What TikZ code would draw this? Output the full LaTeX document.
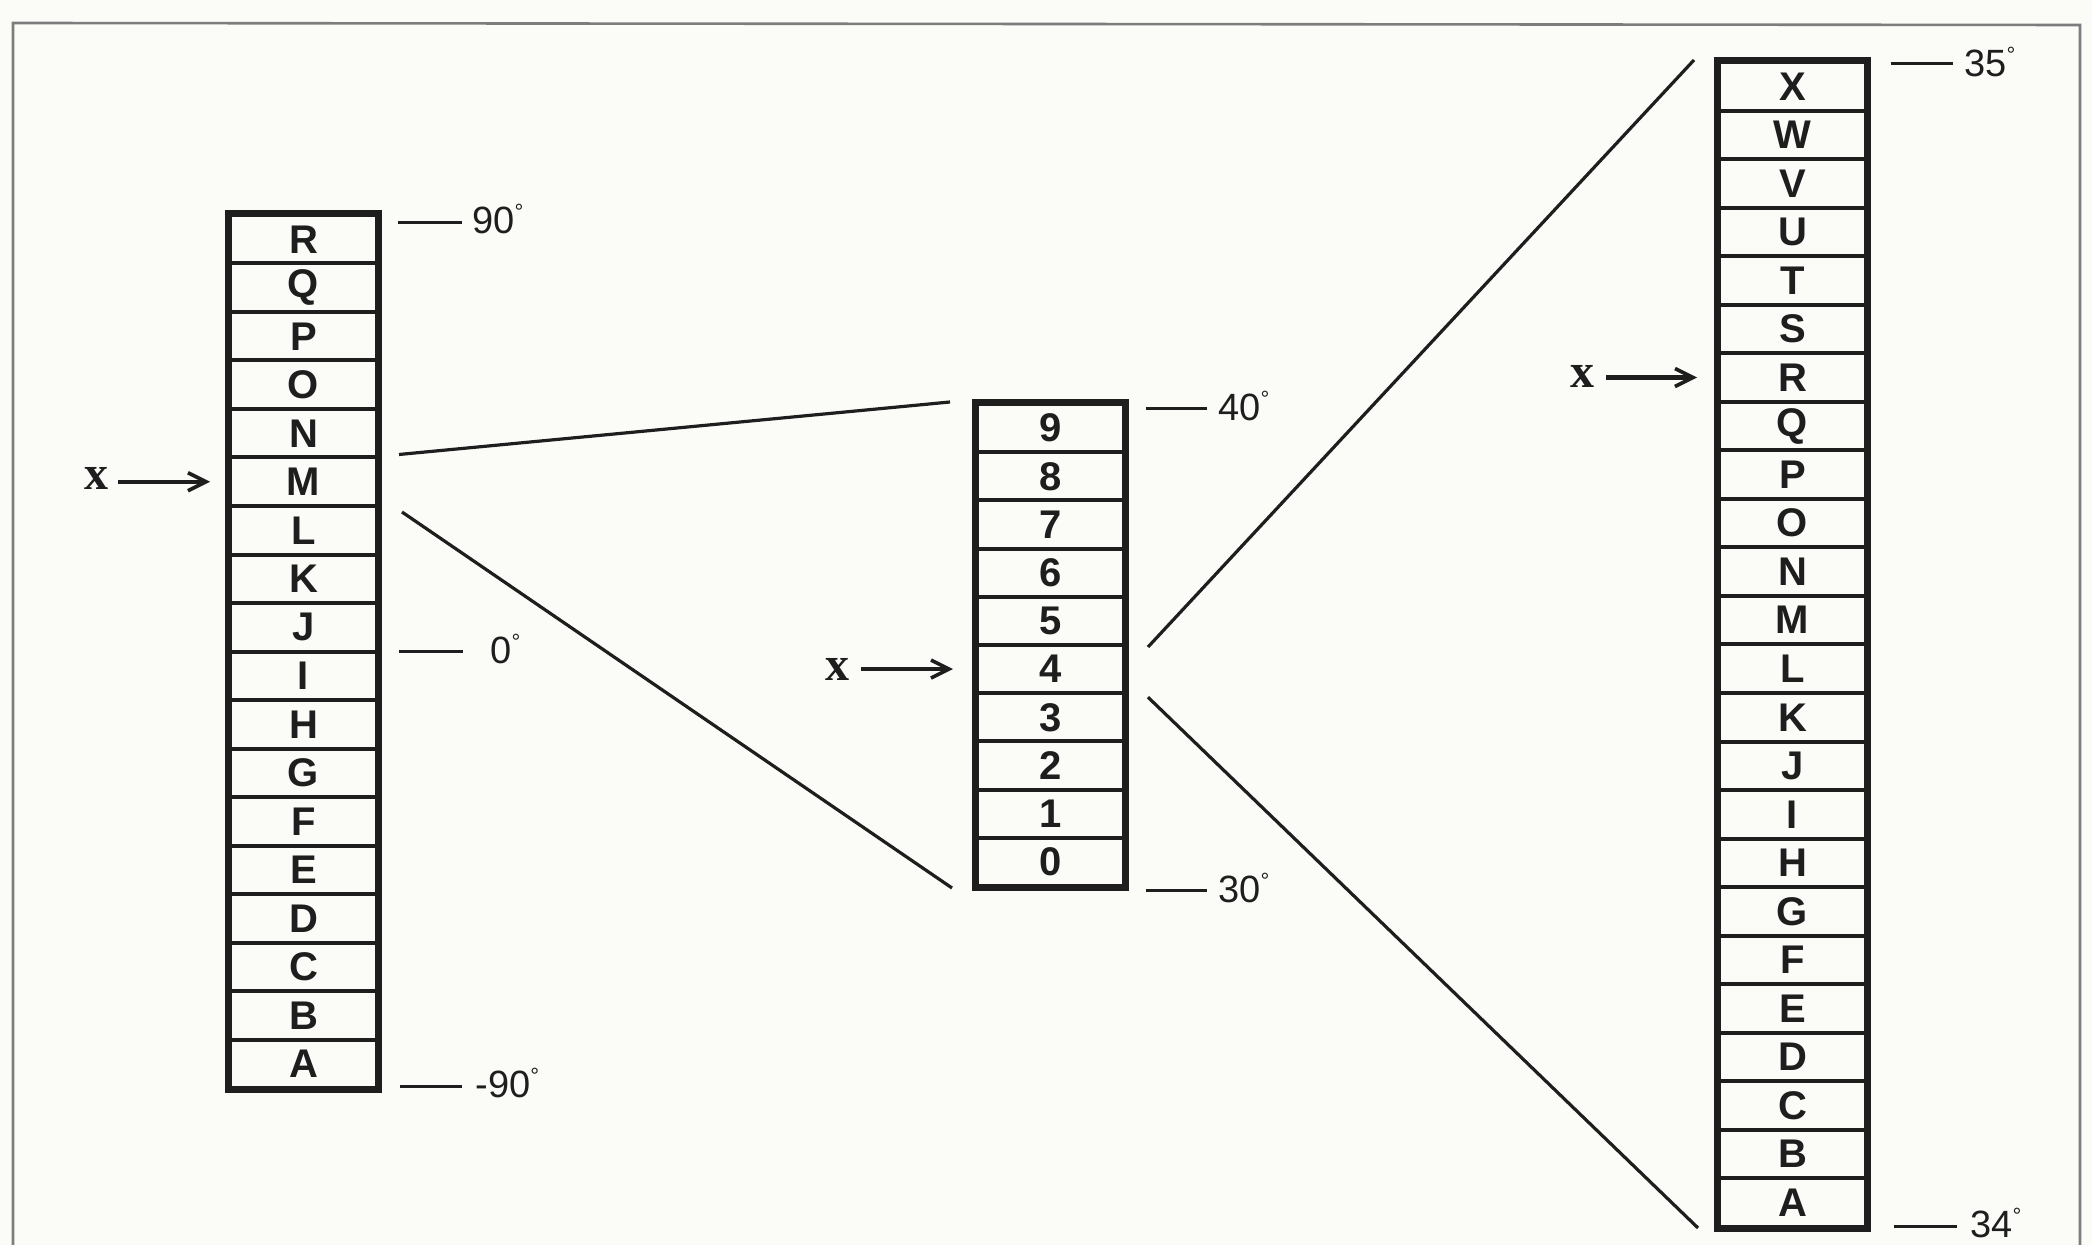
\documentclass[tikz,border=0pt]{standalone}
\usepackage{fontspec}
\setmainfont{Liberation Sans}
\newfontfamily\xserif{Liberation Serif}
\usetikzlibrary{arrows.meta,calc}
\definecolor{bgc}{RGB}{251,251,248}
\definecolor{ink}{RGB}{30,30,30}
\definecolor{framec}{RGB}{125,125,125}
\newcommand{\dg}{\raisebox{7pt}{\fontsize{11pt}{11pt}\selectfont °}}
\begin{document}
\begin{tikzpicture}[x=0.5pt,y=-0.5pt,
  cell/.style={draw=ink, line width=2pt, minimum width=73.5pt, inner sep=0pt,
    text=ink, font=\bfseries\fontsize{20}{20}\selectfont},
  outer/.style={draw=ink, line width=2.7pt},
  fan/.style={draw=ink, line width=1.6pt},
  tickline/.style={draw=ink, line width=1.5pt},
  deg/.style={anchor=base west, inner sep=0pt, text=ink, font=\fontsize{19}{19}\selectfont},
  xlab/.style={inner sep=0pt, text=ink, font=\xserif\bfseries\fontsize{24}{24}\selectfont},
  xarrow/.style={draw=ink, line width=2.2pt, -{Straight Barb[length=9pt,width=9pt,line width=1.8pt]}}
]
\useasboundingbox (0,0) rectangle (2092,1245);
\fill[bgc] (0,0) rectangle (2092,1245);
% frame
\draw[framec, line width=1.3pt] (13,1245) -- (13,23) -- (2080,25) -- (2080,1245);

% left column
\foreach \l [count=\i from 0] in {R,Q,P,O,N,M,L,K,J,I,H,G,F,E,D,C,B,A}
  \node[cell, minimum height=24.25pt] (L-\l) at (303.5,{215+48.5*(\i+0.5)}) {\l};
\draw[outer] (L-R.north west) rectangle (L-A.south east);

% middle column
\foreach \l [count=\i from 0] in {9,8,7,6,5,4,3,2,1,0}
  \node[cell, minimum height=24.1pt] (M-\l) at (1050.5,{404+48.2*(\i+0.5)}) {\l};
\draw[outer] (M-9.north west) rectangle (M-0.south east);

% right column
\foreach \l [count=\i from 0] in {X,W,V,U,T,S,R,Q,P,O,N,M,L,K,J,I,H,G,F,E,D,C,B,A}
  \node[cell, minimum height=24.27pt] (R-\l) at (1792.5,{62+48.54*(\i+0.5)}) {\l};
\draw[outer] (R-X.north west) rectangle (R-A.south east);

% degree labels and ticks
\node[deg] (d90)  at (472,234)  {90\dg};
\node[deg] (d0)   at (490,663)  {0\dg};
\node[deg] (dm90) at (475,1097) {-90\dg};
\node[deg] (d40)  at (1218,421) {40\dg};
\node[deg] (d30)  at (1218,902) {30\dg};
\node[deg] (d35)  at (1964,77)  {35\dg};
\node[deg] (d34)  at (1970,1237) {34\dg};
\draw[tickline] (398,223) -- (462,223);
\draw[tickline] (399,651) -- (463,651);
\draw[tickline] (400,1086) -- (462,1086);
\draw[tickline] (1146,409) -- (1207,409);
\draw[tickline] (1146,890) -- (1207,890);
\draw[tickline] (1891,64) -- (1953,64);
\draw[tickline] (1894,1226) -- (1957,1226);

% x arrows
\node[xlab] (xL) at (96,478) {x};
\node[xlab] (xM) at (837,669) {x};
\node[xlab] (xR) at (1582,376) {x};
\draw[xarrow, shorten <=5pt, shorten >=9pt] (xL.east |- L-M.west) -- (L-M.west);
\draw[xarrow, shorten <=6pt, shorten >=11pt] (xM.east |- M-4.west) -- (M-4.west);
\draw[xarrow, shorten <=6pt, shorten >=10pt] (xR.east |- R-R.west) -- (R-R.west);

% fan connectors
\coordinate (a1) at ($(L-M.north east)+(20,-1)$);
\coordinate (b1) at ($(M-9.north west)+(-25,0)$);
\coordinate (a2) at ($(L-M.south east)+(23,4)$);
\coordinate (b2) at ($(M-0.south west)+(-23,0)$);
\coordinate (a3) at ($(M-5.south east)+(22,0)$);
\coordinate (b3) at ($(R-X.north west)+(-23,0)$);
\coordinate (a4) at ($(M-4.south east)+(22,2)$);
\coordinate (b4) at ($(R-A.south west)+(-19,-1)$);
\draw[fan] (a1) -- (b1);
\draw[fan] (a2) -- (b2);
\draw[fan] (a3) -- (b3);
\draw[fan] (a4) -- (b4);
\end{tikzpicture}
\end{document}
